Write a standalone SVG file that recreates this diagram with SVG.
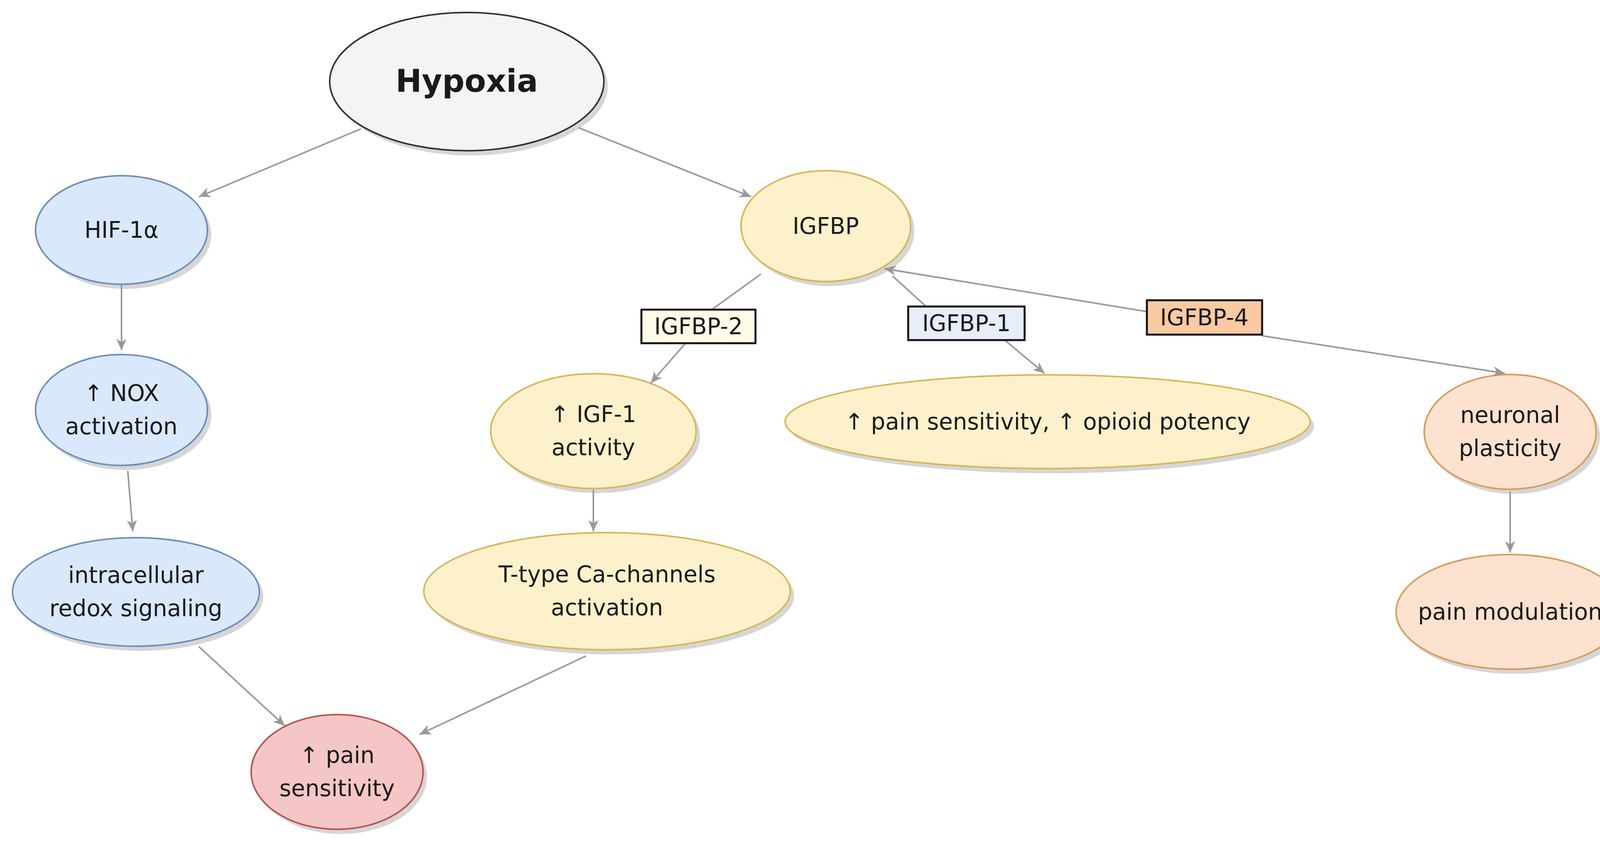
<svg xmlns="http://www.w3.org/2000/svg" width="4201" height="2182" viewBox="0 0 4201 2182">
<style>
text{font-family:"DejaVu Sans",Verdana,sans-serif;font-size:58px;fill:#1a1a1a;text-anchor:middle}
.e{stroke-width:4}
.b{fill:#dae8fc;stroke:#6c8ebf}
.y{fill:#fdf1cb;stroke:#d6b656}
.o{fill:#fde2cf;stroke:#d79b5a}
.r{fill:#f4c7c6;stroke:#b85450}
.g{fill:#f4f4f4;stroke:#333}
.sh{fill:#bbb;opacity:.6}
.c line{stroke:#999;stroke-width:4}
.l rect{stroke:#111;stroke-width:5}
</style>
<defs>
<marker id="a" markerWidth="12" markerHeight="10" refX="11" refY="5" orient="auto-start-reverse" markerUnits="userSpaceOnUse" viewBox="0 0 12 10" style="overflow:visible">
<path d="M-18,-8 L11,5 L-18,18 L-10,5 Z" fill="#999"/>
</marker>
</defs>
<g id="hypoxia"><ellipse class="sh" cx="1205" cy="221" rx="351" ry="177"/><ellipse class="e g" cx="1195" cy="209" rx="351" ry="177"/><text x="1195" y="235" style="font-size:80px;font-weight:bold">Hypoxia</text></g>
<g id="hif"><ellipse class="sh" cx="321" cy="601" rx="220" ry="139"/><ellipse class="e b" cx="311" cy="589" rx="220" ry="139"/><text x="311" y="609">HIF-1α</text></g>
<g id="nox"><ellipse class="sh" cx="321" cy="1062" rx="220" ry="142"/><ellipse class="e b" cx="311" cy="1050" rx="220" ry="142"/><text x="311" y="1027">↑ NOX</text><text x="311" y="1112">activation</text></g>
<g id="redox"><ellipse class="sh" cx="358" cy="1528" rx="316" ry="139"/><ellipse class="e b" cx="348" cy="1516" rx="316" ry="139"/><text x="348" y="1493">intracellular</text><text x="348" y="1578">redox signaling</text></g>
<g id="pain"><ellipse class="sh" cx="873" cy="1989" rx="220" ry="147"/><ellipse class="e r" cx="863" cy="1977" rx="220" ry="147"/><text x="863" y="1954">↑ pain</text><text x="863" y="2039">sensitivity</text></g>
<g id="igfbp"><ellipse class="sh" cx="2124" cy="591" rx="217" ry="142"/><ellipse class="e y" cx="2114" cy="579" rx="217" ry="142"/><text x="2114" y="599">IGFBP</text></g>
<g id="igf1"><ellipse class="sh" cx="1529" cy="1116" rx="263" ry="147"/><ellipse class="e y" cx="1519" cy="1104" rx="263" ry="147"/><text x="1519" y="1081">↑ IGF-1</text><text x="1519" y="1166">activity</text></g>
<g id="ttype"><ellipse class="sh" cx="1564" cy="1526" rx="469" ry="150"/><ellipse class="e y" cx="1554" cy="1514" rx="469" ry="150"/><text x="1554" y="1491">T-type Ca-channels</text><text x="1554" y="1576">activation</text></g>
<g id="opioid"><ellipse class="sh" cx="2692" cy="1092" rx="672" ry="120"/><ellipse class="e y" cx="2682" cy="1080" rx="672" ry="120"/><text x="2682" y="1100">↑ pain sensitivity, ↑ opioid potency</text></g>
<g id="neuronal"><ellipse class="sh" cx="3876" cy="1118" rx="220" ry="147"/><ellipse class="e o" cx="3866" cy="1106" rx="220" ry="147"/><text x="3866" y="1083">neuronal</text><text x="3866" y="1168">plasticity</text></g>
<g id="painmod"><ellipse class="sh" cx="3876" cy="1579" rx="292" ry="147"/><ellipse class="e o" cx="3866" cy="1567" rx="292" ry="147"/><text x="3866" y="1587">pain modulation</text></g>
<g id="connectors" class="c">
<line x1="924" y1="330" x2="509" y2="504" marker-end="url(#a)"/>
<line x1="1481" y1="327" x2="1923" y2="504" marker-end="url(#a)"/>
<line x1="311" y1="729" x2="311" y2="897" marker-end="url(#a)"/>
<line x1="327" y1="1206" x2="340" y2="1361" marker-end="url(#a)"/>
<line x1="509" y1="1656" x2="729" y2="1859" marker-end="url(#a)"/>
<line x1="1500" y1="1680" x2="1074" y2="1881" marker-end="url(#a)"/>
<line x1="1519" y1="1254" x2="1519" y2="1361" marker-end="url(#a)"/>
<line x1="1948" y1="702" x2="1822" y2="793"/>
<line x1="1755" y1="879" x2="1666" y2="981" marker-end="url(#a)"/>
<line x1="2285" y1="707" x2="2371" y2="785"/>
<line x1="2572" y1="871" x2="2674" y2="956" marker-end="url(#a)"/>
<line x1="2936" y1="798" x2="2264" y2="688" marker-end="url(#a)"/>
<line x1="3231" y1="860" x2="3852" y2="956" marker-end="url(#a)"/>
<line x1="3866" y1="1259" x2="3866" y2="1415" marker-end="url(#a)"/>
</g>
<g id="lbl2" class="l"><rect x="1642" y="793" width="292" height="86" fill="#fffbe6"/><text x="1788" y="856">IGFBP-2</text></g>
<g id="lbl1" class="l"><rect x="2325" y="785" width="298" height="86" fill="#e6eefa"/><text x="2474" y="848">IGFBP-1</text></g>
<g id="lbl4" class="l"><rect x="2936" y="769" width="295" height="88" fill="#fbcaa3"/><text x="3083" y="833">IGFBP-4</text></g>
</svg>
